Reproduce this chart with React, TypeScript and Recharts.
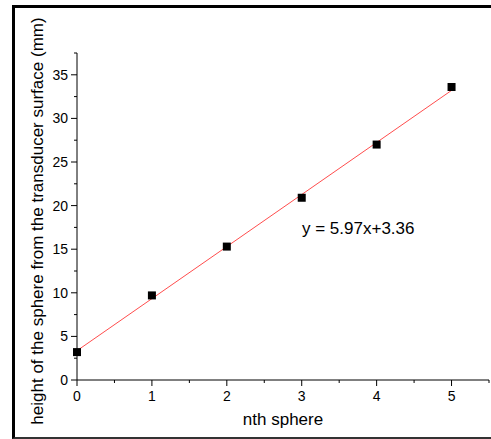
import React from "react";
import {
  ScatterChart,
  Scatter,
  XAxis,
  YAxis,
  ReferenceLine,
} from "recharts";

const SPHERE_N = [0, 1, 2, 3, 4, 5];
const HEIGHT_MM = [3.2, 9.7, 15.3, 20.9, 27.0, 33.6];

// fitted line end points (y = 5.97x + 3.36)
const FIT_X = [0, 5];
const FIT_Y = [3.36, 33.21];

const X_TICKS = [0, 0.5, 1, 1.5, 2, 2.5, 3, 3.5, 4, 4.5, 5, 5.5];
const Y_TICKS = [0, 2.5, 5, 7.5, 10, 12.5, 15, 17.5, 20, 22.5, 25, 27.5, 30, 32.5, 35, 37.5];

const FONT = "'Liberation Sans', Arial, sans-serif";

const data = SPHERE_N.map((n, i) => ({ n, h: HEIGHT_MM[i] }));

function XTick(props: any) {
  const { x, y, payload } = props;
  const v = payload.value as number;
  const major = Number.isInteger(v);
  const axisY = y - 9;
  return (
    <g>
      <line x1={x} x2={x} y1={axisY} y2={axisY + (major ? 6 : 3)} stroke="#000" />
      {major && (
        <text x={x} y={axisY + 21} textAnchor="middle" fontSize={14} fontFamily={FONT} fill="#000">
          {v}
        </text>
      )}
    </g>
  );
}

function YTick(props: any) {
  const { x, y, payload } = props;
  const v = payload.value as number;
  const major = v % 5 === 0;
  const axisX = x + 9;
  return (
    <g>
      <line x1={axisX - (major ? 6 : 3)} x2={axisX} y1={y} y2={y} stroke="#000" />
      {major && (
        <text x={axisX - 9} y={y + 5} textAnchor="end" fontSize={14} fontFamily={FONT} fill="#000">
          {v}
        </text>
      )}
    </g>
  );
}

const Square = (props: any) => (
  <rect x={props.cx - 4} y={props.cy - 4} width={8} height={8} fill="#000" />
);

export default function App() {
  return (
    <div style={{ position: "absolute", left: 0, top: 0, width: 491, height: 439, background: "#fff" }}>
      <div
        style={{
          position: "absolute",
          left: 12,
          top: 5,
          width: 476,
          height: 429,
          borderTop: "3px solid #000",
          borderLeft: "3px solid #000",
          borderBottom: "2px solid #333",
        }}
      />
      <div style={{ position: "absolute", left: 0, top: 0 }}>
        <ScatterChart width={491} height={439} margin={{ top: 53, right: 2, left: 0, bottom: 0 }}>
          <XAxis
            type="number"
            dataKey="n"
            domain={[0, 5.5]}
            ticks={X_TICKS}
            interval={0}
            height={59}
            tickSize={6}
            tickMargin={3}
            tickLine={false}
            tick={<XTick />}
            axisLine={{ stroke: "#000" }}
            label={{
              content: () => (
                <text x={283} y={425} textAnchor="middle" fontSize={17} fontFamily={FONT} fill="#000">
                  nth sphere
                </text>
              ),
            }}
          />
          <YAxis
            type="number"
            dataKey="h"
            domain={[0, 37.5]}
            ticks={Y_TICKS}
            interval={0}
            width={77}
            tickSize={6}
            tickMargin={3}
            tickLine={false}
            tick={<YTick />}
            axisLine={{ stroke: "#000" }}
            label={{
              content: () => (
                <text
                  x={43}
                  y={221}
                  transform="rotate(-90 43 221)"
                  textAnchor="middle"
                  fontSize={17}
                  fontFamily={FONT}
                  fill="#000"
                >
                  height of the sphere from the transducer surface (mm)
                </text>
              ),
            }}
          />
          <ReferenceLine
            segment={[
              { x: FIT_X[0], y: FIT_Y[0] },
              { x: FIT_X[1], y: FIT_Y[1] },
            ]}
            stroke="#ff4d4d"
            strokeWidth={1}
            label={{
              content: () => (
                <text x={302} y={234} fontSize={17} fontFamily={FONT} fill="#000">
                  y = 5.97x+3.36
                </text>
              ),
            }}
          />
          <Scatter data={data} shape={<Square />} isAnimationActive={false} />
        </ScatterChart>
      </div>
    </div>
  );
}
